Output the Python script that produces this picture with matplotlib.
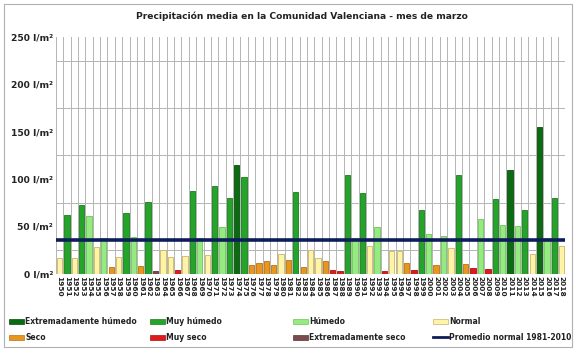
import numpy as np
import matplotlib
matplotlib.use('Agg')
import matplotlib.pyplot as plt
from matplotlib.patches import Rectangle
from matplotlib.lines import Line2D

years = list(range(1950, 2019))
precip = [16, 62, 16, 72, 61, 28, 37, 7, 17, 64,
          39, 8, 76, 3, 25, 17, 3.5, 19, 87, 38,
          20, 92, 49, 80, 115, 102, 9.5, 11, 13, 9,
          21, 14, 86, 7, 25, 16, 13, 3.5, 3, 104,
          37, 85, 29, 49, 3, 24, 24, 11, 4, 67,
          42, 9, 40, 27, 104, 10, 6, 58, 5, 79,
          51, 109, 50, 67, 21, 155, 37, 80, 29]
category = ['N', 'M', 'N', 'M', 'H', 'N', 'H', 'S', 'N', 'M',
            'H', 'S', 'M', 'ES', 'N', 'N', 'MS', 'N', 'M', 'H',
            'N', 'M', 'H', 'M', 'E', 'M', 'S', 'S', 'S', 'S',
            'N', 'S', 'M', 'S', 'N', 'N', 'S', 'MS', 'MS', 'M',
            'H', 'M', 'N', 'H', 'MS', 'N', 'N', 'S', 'MS', 'M',
            'H', 'S', 'H', 'N', 'M', 'S', 'MS', 'H', 'MS', 'M',
            'H', 'E', 'H', 'M', 'N', 'E', 'H', 'M', 'N']
normal_mean = 35

cat_codes = ['E', 'M', 'H', 'N', 'S', 'MS', 'ES']
cat_names = ['Extremadamente húmedo', 'Muy húmedo', 'Húmedo', 'Normal',
             'Seco', 'Muy seco', 'Extremadamente seco']
face = {'E': '#0b6b12', 'M': '#24a52a', 'H': '#95ea80', 'N': '#fff4a6',
        'S': '#e8961e', 'MS': '#e0191c', 'ES': '#7b4a4e'}
edge = {'E': '#084d0c', 'M': '#1a7d1f', 'H': '#6cc45a', 'N': '#c8b569',
        'S': '#b87414', 'MS': '#a81214', 'ES': '#5a3538'}

fig = plt.figure(figsize=(5.76, 3.53), dpi=100)
ax = fig.add_axes([55.8 / 576, 79.5 / 353, (565.4 - 55.8) / 576, (273.5 - 37) / 353])

ax.bar(years, precip, width=0.72,
       color=[face[c] for c in category],
       edgecolor=[edge[c] for c in category], linewidth=0.6, zorder=3)
ax.axhline(normal_mean, color='#0e1d5a', linewidth=2.6, zorder=4)

ax.set_xlim(1949.5, 2018.5)
ax.set_ylim(0, 250)
ax.set_yticks(range(0, 251, 50))
ax.set_yticklabels([f'{v} l/m²' for v in range(0, 251, 50)],
                   fontsize=6.6, fontweight='bold', color='#222222')
ax.set_yticks(range(0, 251, 25), minor=True)
ax.set_xticks(years)
ax.set_xticklabels([str(y) for y in years], rotation=-90,
                   fontsize=5.3, fontweight='bold', color='#222222')
ax.set_xticks(np.arange(1949.5, 2019, 1), minor=True)
ax.tick_params(axis='both', which='both', length=0, pad=2)
ax.grid(True, which='minor', color='#b4b4b4', linewidth=0.7, zorder=0)
for s in ax.spines.values():
    s.set_visible(False)

fig.text(302 / 576, 1 - 16 / 353, 'Precipitación media en la Comunidad Valenciana - mes de marzo',
         ha='center', va='center', fontsize=6.6, fontweight='bold', color='#222222')

# legend, 4 equal columns
col_x = [9, 150, 293, 433]
row_y = [321, 337]
items = cat_codes + ['line']
labels = cat_names + ['Promedio normal 1981-2010']
for i, (code, lab) in enumerate(zip(items, labels)):
    x0 = col_x[i % 4] / 576
    y0 = 1 - row_y[i // 4] / 353
    if code == 'line':
        fig.add_artist(Line2D([x0, x0 + 15 / 576], [y0, y0], color='#0e1d5a', linewidth=2))
    else:
        fig.add_artist(Rectangle((x0, y0 - 2.5 / 353), 15 / 576, 5 / 353,
                                 facecolor=face[code], edgecolor=edge[code], linewidth=0.5))
    fig.text(x0 + 16 / 576, y0, lab, ha='left', va='center', fontsize=5.5,
             fontweight='bold', color='#222222')

fig.add_artist(Rectangle((4 / 576, 6 / 353), 568 / 576, 343 / 353, fill=False,
                         edgecolor='#b0b0b0', linewidth=0.8))

fig.savefig('out.png', dpi=100)
